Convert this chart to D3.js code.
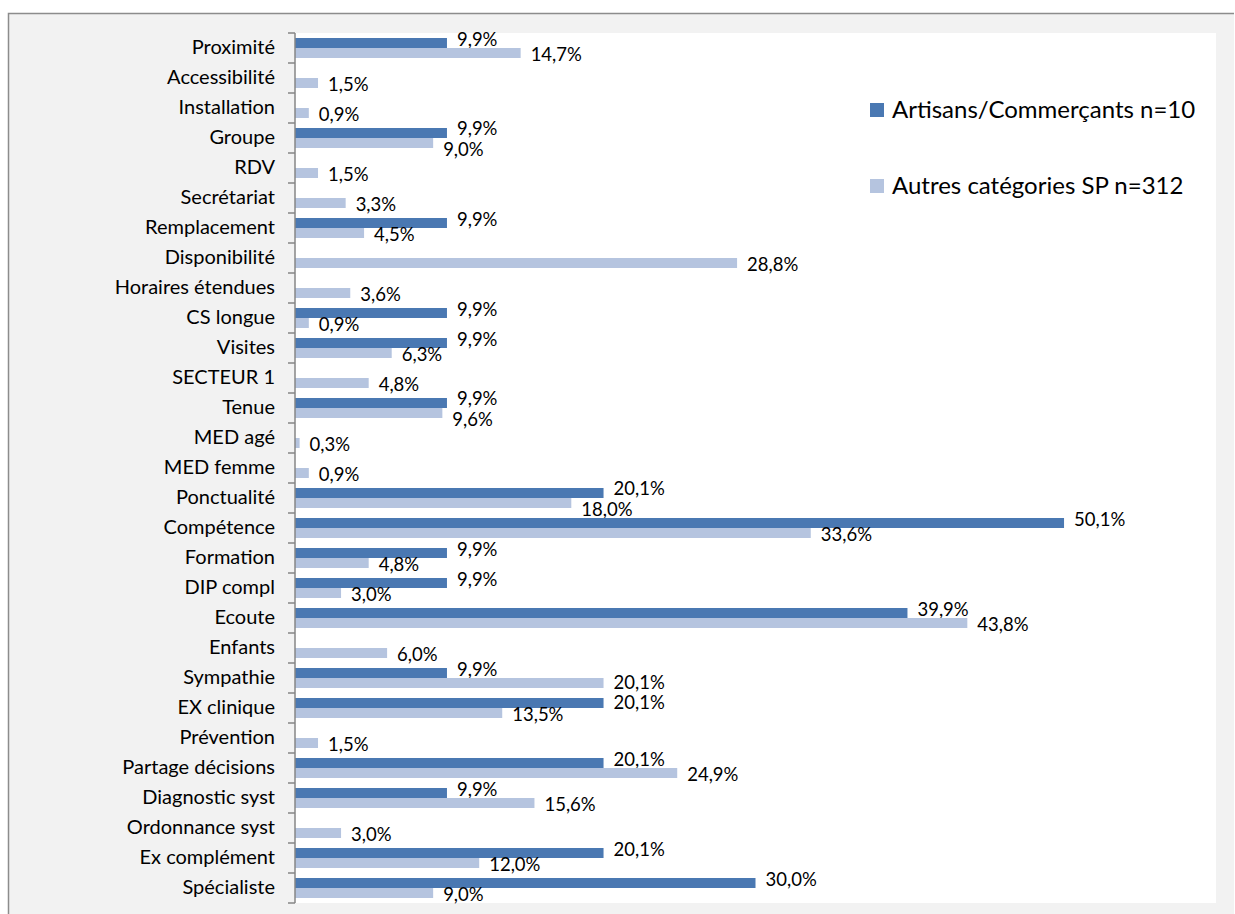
<!DOCTYPE html>
<html>
<head>
<meta charset="utf-8">
<script src="https://cdn.jsdelivr.net/npm/d3@7"></script>
<style>
  body { margin: 0; background: #fff; overflow: hidden; }
  text { font-family: Lato, "Liberation Sans", sans-serif; fill: #000; }
</style>
</head>
<body>
<script>
var categories = ["Proximité", "Accessibilité", "Installation", "Groupe", "RDV", "Secrétariat",
    "Remplacement", "Disponibilité", "Horaires étendues", "CS longue", "Visites", "SECTEUR 1",
    "Tenue", "MED agé", "MED femme", "Ponctualité", "Compétence", "Formation", "DIP compl",
    "Ecoute", "Enfants", "Sympathie", "EX clinique", "Prévention", "Partage décisions",
    "Diagnostic syst", "Ordonnance syst", "Ex complément", "Spécialiste"];

var artisans = [9.9, null, null, 9.9, null, null, 9.9, null, null, 9.9, 9.9, null,
    9.9, null, null, 20.1, 50.1, 9.9, 9.9, 39.9, null, 9.9, 20.1, null, 20.1,
    9.9, null, 20.1, 30.0];

var autres = [14.7, 1.5, 0.9, 9.0, 1.5, 3.3, 4.5, 28.8, 3.6, 0.9, 6.3, 4.8,
    9.6, 0.3, 0.9, 18.0, 33.6, 4.8, 3.0, 43.8, 6.0, 20.1, 13.5, 1.5, 24.9,
    15.6, 3.0, 12.0, 9.0];

var seriesNames = ["Artisans/Commerçants n=10", "Autres catégories SP n=312"];
var colors = ["#4a78b2", "#b5c4df"];

var width = 1235, height = 914;
var plot = {left: 295, right: 1216, top: 33, bottom: 903};

var svg = d3.select("body").append("svg")
    .attr("width", width)
    .attr("height", height)
    .style("display", "block");

// frame: only top and left edges fall inside the picture
svg.append("rect")
    .attr("x", 8).attr("y", 13)
    .attr("width", width - 9).attr("height", height - 13)
    .attr("fill", "#f2f2f2");

svg.append("path")
    .attr("d", "M8.5," + height + "V13.5H" + (width - 1))
    .attr("fill", "none")
    .attr("stroke", "#8c8c8c")
    .attr("stroke-width", 1.5);

svg.append("rect")
    .attr("x", plot.left).attr("y", plot.top)
    .attr("width", plot.right - plot.left)
    .attr("height", plot.bottom - plot.top)
    .attr("fill", "#fff");

var x = d3.scaleLinear().domain([0, 60]).range([plot.left, plot.right]);
var y = d3.scaleBand().domain(categories).range([plot.top, plot.bottom]);
var inner = d3.scaleBand().domain([0, 1]).range([0, y.bandwidth()]).paddingOuter(0.5).paddingInner(0);

var fmt = d => d3.format(".1f")(d).replace(".", ",") + "%";

var close = (a, b) => a != null && b != null && Math.abs(x(a) - x(b)) < 55;

var data = categories.map((c, i) => ({
    cat: c,
    vals: [artisans[i], autres[i]],
    // labels of the two bars collide when their x positions are close
    crowded: close(artisans[i], autres[i]),
    // light label touching the dark label of the next category
    nextClash: close(autres[i], artisans[i + 1]),
    prevClash: i > 0 && close(autres[i - 1], artisans[i])
}));

function labelOffset(d, s) {
    if (s == 0) return d.crowded ? -9 : (d.prevClash ? -5 : -8);
    return d.crowded ? 12 : (d.nextClash ? 5 : 7);
}

var groups = svg.selectAll(".cat")
    .data(data)
    .enter().append("g")
    .attr("class", "cat")
    .attr("transform", d => "translate(0," + y(d.cat) + ")");

[0, 1].forEach(s => {
    var g = groups.filter(d => d.vals[s] != null);
    g.append("rect")
        .attr("x", x(0))
        .attr("y", inner(s))
        .attr("width", d => x(d.vals[s]) - x(0))
        .attr("height", inner.bandwidth())
        .attr("fill", colors[s]);
    g.append("text")
        .attr("x", d => x(d.vals[s]) + 10)
        .attr("y", d => y.bandwidth() / 2 + labelOffset(d, s))
        .attr("dy", "0.35em")
        .style("font-size", "18.5px")
        .text(d => fmt(d.vals[s]));
});

// category axis
var axis = svg.append("g")
    .attr("transform", "translate(" + plot.left + ",0)");

axis.append("line")
    .attr("x1", 0).attr("x2", 0)
    .attr("y1", plot.top).attr("y2", plot.bottom)
    .attr("stroke", "#868686").attr("stroke-width", 1.5);

axis.selectAll(".tick")
    .data(categories.concat([null]))
    .enter().append("line")
    .attr("x1", -7).attr("x2", 0)
    .attr("y1", d => d == null ? plot.bottom : y(d))
    .attr("y2", d => d == null ? plot.bottom : y(d))
    .attr("stroke", "#868686").attr("stroke-width", 1.5);

axis.selectAll(".lbl")
    .data(categories)
    .enter().append("text")
    .attr("x", -20)
    .attr("y", d => y(d) + y.bandwidth() / 2)
    .attr("dy", "0.3em")
    .attr("text-anchor", "end")
    .style("font-size", "20px")
    .text(d => d);

// legend
var legend = svg.selectAll(".legend")
    .data(seriesNames)
    .enter().append("g")
    .attr("transform", (d, i) => "translate(870," + (110 + i * 76) + ")");

legend.append("rect")
    .attr("x", 0).attr("y", -7)
    .attr("width", 14).attr("height", 14)
    .attr("fill", (d, i) => colors[i]);

legend.append("text")
    .attr("x", 22)
    .attr("dy", "0.35em")
    .style("font-size", "24px")
    .text(d => d);
</script>
</body>
</html>
